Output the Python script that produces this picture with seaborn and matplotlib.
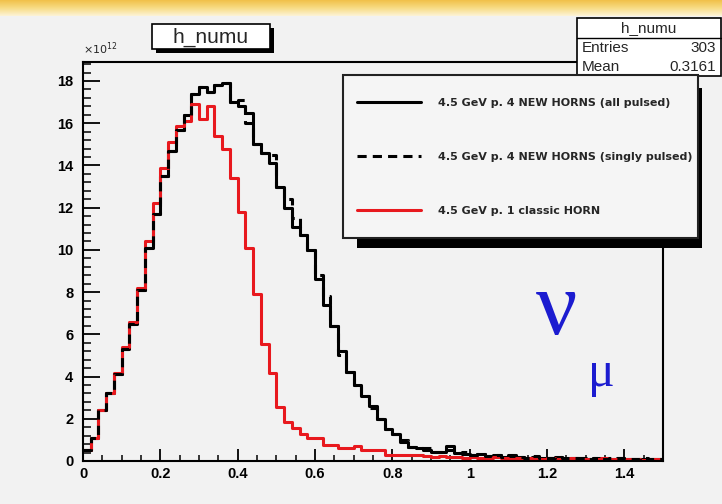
import numpy as np
import matplotlib
matplotlib.use('Agg')
import matplotlib.pyplot as plt
import seaborn as sns
from matplotlib.lines import Line2D
from matplotlib.patches import Rectangle
from matplotlib.ticker import MultipleLocator
from matplotlib.colors import LinearSegmentedColormap

# histogram: 75 bins of width 0.02 on [0, 1.5], contents in units of 1e12
n_bins = 75
bin_lo = np.arange(n_bins) * 0.02
bin_mid = bin_lo + 0.01

all_pulsed = [
    0.5, 1.1, 2.4, 3.2, 4.1, 5.3, 6.5, 8.1, 10.1, 11.7,
    13.5, 14.7, 15.7, 16.4, 17.4, 17.7, 17.5, 17.8, 17.9, 17.0,
    16.8, 16.5, 15.0, 14.6, 14.1, 13.0, 12.0, 11.1, 10.7, 10.0,
    8.6, 7.4, 6.4, 5.2, 4.2, 3.6, 3.1, 2.6, 2.0, 1.5,
    1.3, 0.9, 0.65, 0.6, 0.5, 0.45, 0.45, 0.7, 0.4, 0.35,
    0.3, 0.35, 0.25, 0.3, 0.2, 0.25, 0.2, 0.15, 0.2, 0.15,
    0.15, 0.2, 0.1, 0.15, 0.15, 0.1, 0.15, 0.1, 0.1, 0.15,
    0.1, 0.1, 0.1, 0.1, 0.1,
]
singly_pulsed = [
    0.5, 1.1, 2.4, 3.2, 4.1, 5.3, 6.5, 8.1, 10.1, 11.7,
    13.5, 14.7, 15.7, 16.4, 17.4, 17.7, 17.5, 17.8, 17.9, 17.0,
    17.1, 16.0, 15.0, 14.6, 14.5, 13.0, 12.4, 11.5, 10.7, 10.0,
    8.8, 7.8, 6.4, 5.0, 4.2, 3.6, 3.1, 2.5, 2.0, 1.5,
    1.3, 1.0, 0.65, 0.6, 0.6, 0.45, 0.45, 0.5, 0.4, 0.45,
    0.3, 0.35, 0.25, 0.3, 0.2, 0.3, 0.2, 0.15, 0.25, 0.15,
    0.15, 0.2, 0.15, 0.15, 0.15, 0.1, 0.15, 0.1, 0.15, 0.15,
    0.1, 0.1, 0.15, 0.1, 0.1,
]
classic_horn = [
    0.5, 1.1, 2.4, 3.2, 4.15, 5.4, 6.6, 8.2, 10.4, 12.2,
    13.9, 15.1, 15.85, 16.1, 16.9, 16.2, 16.8, 15.4, 14.8, 13.4,
    11.8, 10.1, 7.9, 5.55, 4.15, 2.55, 1.85, 1.55, 1.3, 1.1,
    1.1, 0.75, 0.75, 0.6, 0.6, 0.7, 0.5, 0.5, 0.5, 0.28,
    0.28, 0.3, 0.3, 0.3, 0.25, 0.2, 0.25, 0.2, 0.2, 0.15,
    0.2, 0.15, 0.15, 0.2, 0.15, 0.1, 0.15, 0.15, 0.1, 0.1,
    0.15, 0.1, 0.1, 0.15, 0.1, 0.1, 0.1, 0.15, 0.1, 0.1,
    0.1, 0.1, 0.05, 0.1, 0.1,
]

labels = [
    '4.5 GeV p. 4 NEW HORNS (all pulsed)',
    '4.5 GeV p. 4 NEW HORNS (singly pulsed)',
    '4.5 GeV p. 1 classic HORN',
]
x_ticks = [0, 0.2, 0.4, 0.6, 0.8, 1.0, 1.2, 1.4]
x_tick_labels = ['0', '0.2', '0.4', '0.6', '0.8', '1', '1.2', '1.4']
y_ticks = [0, 2, 4, 6, 8, 10, 12, 14, 16, 18]
y_tick_labels = [str(v) for v in y_ticks]

W, H = 722, 504
BG = '#f2f2f2'
RED = '#e8191e'


def fx(px):
    return px / W


def fy(py):
    return 1 - py / H


sns.set_style('ticks')
plt.rcParams['font.family'] = ['Liberation Sans', 'DejaVu Sans']

fig = plt.figure(figsize=(W / 100, H / 100), dpi=100, facecolor=BG)

# yellow band on top of the slide
band = fig.add_axes([0, fy(16), 1, 16 / H])
band_cmap = LinearSegmentedColormap.from_list('band', ['#f1c14a', '#f8dc85', '#fdf3d6'])
band.imshow(np.linspace(0, 1, 32).reshape(-1, 1), aspect='auto', cmap=band_cmap,
            extent=[0, 1, 0, 1])
band.axis('off')

ax = fig.add_axes([fx(83), fy(461), (663 - 83) / W, (461 - 62) / H])
ax.set_facecolor(BG)

sns.histplot(x=bin_mid, weights=all_pulsed, bins=n_bins, binrange=(0, 1.5),
             element='step', fill=False, color='black', linewidth=2.2, ax=ax)
sns.histplot(x=bin_mid, weights=classic_horn, bins=n_bins, binrange=(0, 1.5),
             element='step', fill=False, color=RED, linewidth=2.2, ax=ax)
sns.histplot(x=bin_mid, weights=singly_pulsed, bins=n_bins, binrange=(0, 1.5),
             element='step', fill=False, color='black', linewidth=2.2,
             linestyle=(0, (3, 2)), ax=ax)

ax.set_xlim(0, 1.5)
ax.set_ylim(0, 18.9)
ax.set_xlabel('')
ax.set_ylabel('')
ax.set_xticks(x_ticks, x_tick_labels)
ax.set_yticks(y_ticks, y_tick_labels)
ax.xaxis.set_minor_locator(MultipleLocator(0.05))
ax.yaxis.set_minor_locator(MultipleLocator(0.4))
ax.tick_params(axis='x', which='major', direction='in', length=8.5, width=1.3, pad=4,
               labelsize=10.5, colors='black')
ax.tick_params(axis='x', which='minor', direction='in', length=4.3, width=1.3)
ax.tick_params(axis='y', which='major', direction='in', length=12, width=1.3, pad=7,
               labelsize=10.5, colors='black')
ax.tick_params(axis='y', which='minor', direction='in', length=6, width=1.3)
for lab in ax.get_xticklabels() + ax.get_yticklabels():
    lab.set_fontweight('bold')
for s in ax.spines.values():
    s.set_color('black')
    s.set_linewidth(1.5)

ax.text(0, 1.012, r'$\times10^{12}$', transform=ax.transAxes, fontsize=8,
        ha='left', va='bottom')

# nu_mu label
ax.text(fx(557), fy(312), '\u03bd', transform=fig.transFigure, color='#1c1cd0',
        fontsize=66, family=['Liberation Serif', 'DejaVu Serif'], ha='center', va='center')
ax.text(fx(601), fy(374), '\u03bc', transform=fig.transFigure, color='#1c1cd0',
        fontsize=36, family=['Liberation Serif', 'DejaVu Serif'], ha='center', va='center')

# title box with shadow
fig.patches.append(Rectangle((fx(156), fy(53)), 118 / W, 25 / H, transform=fig.transFigure,
                             facecolor='black', edgecolor='none', zorder=5))
fig.patches.append(Rectangle((fx(152), fy(49)), 118 / W, 25 / H, transform=fig.transFigure,
                             facecolor='white', edgecolor='black', linewidth=1.2, zorder=6))
fig.text(fx(211), fy(37), 'h_numu', fontsize=15, ha='center', va='center', zorder=7)

# stats box
fig.patches.append(Rectangle((fx(577), fy(76)), (721 - 577) / W, (76 - 18) / H,
                             transform=fig.transFigure, facecolor='white',
                             edgecolor='black', linewidth=1.2, zorder=5))
fig.lines.append(Line2D([fx(577), fx(721)], [fy(38), fy(38)], transform=fig.transFigure,
                        color='black', linewidth=1.0, zorder=6))
fig.text(fx(649), fy(28), 'h_numu', fontsize=11, ha='center', va='center', zorder=7)
fig.text(fx(582), fy(48), 'Entries', fontsize=11, ha='left', va='center', zorder=7)
fig.text(fx(716), fy(48), '303', fontsize=11, ha='right', va='center', zorder=7)
fig.text(fx(582), fy(67), 'Mean', fontsize=11, ha='left', va='center', zorder=7)
fig.text(fx(716), fy(67), '0.3161', fontsize=11, ha='right', va='center', zorder=7)

# legend box with shadow
LX0, LX1, LY0, LY1 = 343, 698, 75, 238
fig.patches.append(Rectangle((fx(LX0 + 14), fy(LY1 + 10)), (LX1 - LX0 - 10) / W, 12 / H,
                             transform=fig.transFigure, facecolor='black',
                             edgecolor='none', zorder=8))
fig.patches.append(Rectangle((fx(LX1 - 1), fy(LY1 + 10)), 5 / W, (LY1 - LY0 - 3) / H,
                             transform=fig.transFigure, facecolor='black',
                             edgecolor='none', zorder=8))
fig.patches.append(Rectangle((fx(LX0), fy(LY1)), (LX1 - LX0) / W, (LY1 - LY0) / H,
                             transform=fig.transFigure, facecolor='#f5f5f5',
                             edgecolor='#222222', linewidth=1.5, zorder=9))
handles = [
    Line2D([], [], color='black', linewidth=2.2),
    Line2D([], [], color='black', linewidth=2.2, linestyle=(0, (3, 2))),
    Line2D([], [], color=RED, linewidth=2.2),
]
leg = fig.legend(handles, labels, loc='upper left',
                 bbox_to_anchor=(fx(357), fy(98)), bbox_transform=fig.transFigure,
                 frameon=False, borderpad=0, borderaxespad=0, handlelength=5.8,
                 handletextpad=1.45, labelspacing=3.95,
                 prop={'size': 8, 'weight': 'bold', 'family': 'DejaVu Sans'})
leg.set_zorder(10)

fig.savefig('out.png', dpi=100, facecolor=BG)
